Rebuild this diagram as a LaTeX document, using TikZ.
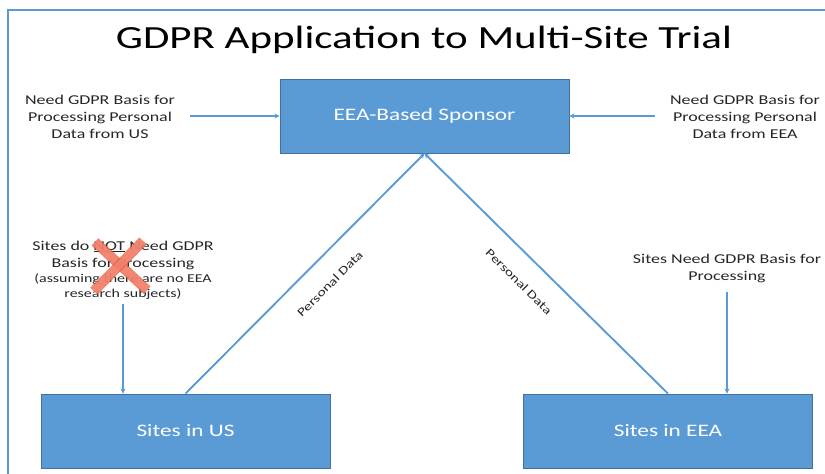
\documentclass[tikz,border=0pt]{standalone}
\usepackage{fontspec}
\setmainfont[FakeStretch=1.33]{Carlito}
\usepackage{tikz}
\usetikzlibrary{arrows.meta,positioning}
\definecolor{gdprblue}{RGB}{91,155,213}
\definecolor{gdpredge}{RGB}{65,113,156}
\definecolor{gdprtext}{RGB}{38,38,38}
\definecolor{crossfill}{RGB}{244,140,118}
\definecolor{crossedge}{RGB}{230,85,60}
\tikzset{
  gdprbox/.style={
    rectangle,
    draw=gdpredge,
    fill=gdprblue,
    line width=0.8pt,
    minimum width=289pt,
    minimum height=74pt,
    text=white,
    font=\fontsize{17.5}{20}\selectfont
  },
  gdprnote/.style={
    align=center,
    inner sep=1pt,
    text=gdprtext,
    font=\fontsize{13.5}{17}\selectfont
  },
  gdprlabel/.style={
    inner sep=1pt,
    text=gdprtext,
    font=\fontsize{11.8}{14}\selectfont
  },
  gdprarrow/.style={
    -{Stealth[length=5pt,width=5pt]},
    line width=1.9pt,
    draw=gdprblue
  },
  crossmark/.style={
    line width=1pt,
    draw=crossedge,
    double=crossfill,
    double distance=8pt,
    opacity=0.75
  }
}

\begin{document}
\begin{tikzpicture}[x=1pt,y=-1pt]
\useasboundingbox (0,0) rectangle (825,474);
% frame
\draw[gdprblue, line width=1.5pt] (8,474) -- (8,10) -- (825,10);
\node[text=black, font=\fontsize{32.3}{36}\selectfont] (title) at (424,40) {GDPR Application to Multi-Site Trial};

\node[gdprbox] (sponsor) at (424.5,116) {EEA-Based Sponsor};
\node[gdprbox] (usbox) at (185.5,431) {Sites in US};
\node[gdprbox] (eeabox) at (668,431) {Sites in EEA};

\node[gdprnote] (usneed) at (100,117) {Need GDPR Basis for\\Processing Personal\\Data from US};
\node[gdprnote] (eeaneed) at (745,117) {Need GDPR Basis for\\Processing Personal\\Data from EEA};
\node[gdprnote] (ussites) at (123,270) {Sites do \underline{NOT} Need GDPR\\Basis for Processing\\[-2pt]
  {\fontsize{12}{15}\selectfont (assuming there are no EEA}\\[-2pt]
  {\fontsize{12}{15}\selectfont research subjects)}};
\node[gdprnote] (eeasites) at (727,268) {Sites Need GDPR Basis for\\Processing};

\draw[gdprarrow] (usneed.east |- sponsor.west) ++(14,0) coordinate (usstart) -- (sponsor.west);
\draw[gdprarrow] (eeaneed.west |- sponsor.east) ++(-14,0) coordinate (eeastart) -- (sponsor.east);
\draw[gdprarrow] (ussites.south) ++(0,4) coordinate (usdown) -- (usdown |- usbox.north);
\draw[gdprarrow] (eeasites.south) ++(0,8) coordinate (eeadown) -- (eeadown |- eeabox.north);
\draw[gdprarrow] (usbox.north) -- node[gdprlabel, sloped, pos=0.53, below=19pt] (uslabel) {Personal Data} (sponsor.south);
\draw[gdprarrow] (eeabox.north) -- node[gdprlabel, sloped, pos=0.54, below=19pt] (eealabel) {Personal Data} (sponsor.south);

% cross over the NOT
\draw[crossmark] (95,242) -- (147,290);
\draw[crossmark] (143,241) -- (94,291);
\end{tikzpicture}
\end{document}
